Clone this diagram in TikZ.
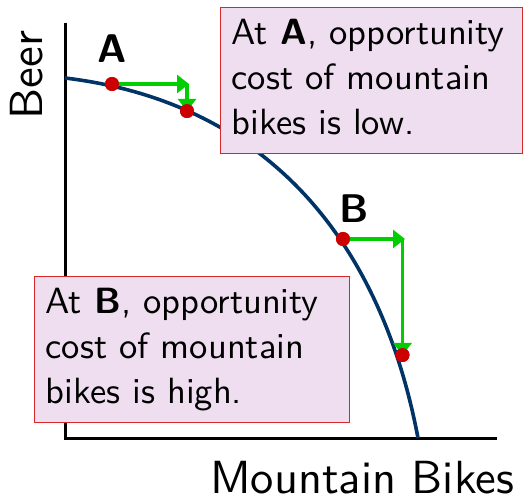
\documentclass[tikz,border=0pt]{standalone}
\usepackage{fontspec}
\setsansfont{lmsans10-regular}[Extension=.otf, BoldFont=lmsans10-bold]
\usetikzlibrary{arrows.meta}
\definecolor{ppfnavy}{RGB}{0,51,102}
\definecolor{dotred}{RGB}{204,0,0}
\definecolor{arrgreen}{RGB}{0,206,0}
\definecolor{boxfill}{RGB}{238,222,240}
\definecolor{boxline}{RGB}{214,40,40}
\begin{document}
\begin{tikzpicture}[x=1pt,y=-1pt,
 axis/.style={line width=3pt, line join=miter},
 ppf/.style={line width=3.6pt, draw=ppfnavy},
 pt/.style={circle, fill=dotred, minimum size=14pt, inner sep=0pt},
 move/.style={line width=3.3pt, draw=arrgreen, -{Triangle[length=12pt,width=18pt]}},
 note/.style={draw=boxline, line width=1.2pt, fill=boxfill, anchor=north west, align=left, inner xsep=11pt, inner ysep=0pt, font=\sffamily\fontsize{36.5}{45}\selectfont, minimum height=146pt},
 ptlabel/.style={font=\sffamily\bfseries\fontsize{40}{48}\selectfont, inner sep=0pt},
 axlabel/.style={font=\sffamily\fontsize{46.5}{56}\selectfont, inner sep=0pt}]
\useasboundingbox (0,0) rectangle (523,500);
% axes
\coordinate (ytop) at (65.5,23);
\coordinate (orig) at (65.5,438);
\coordinate (xend) at (497,438);
\draw[axis] (ytop) -- (orig) -- (xend);
% frontier
\coordinate (ppfs) at (65,78);
\coordinate (ppfe) at (418,438);
\draw[ppf] (ppfs) .. controls (265,102) and (380,238) .. (ppfe);
% points
\node[pt] (A) at (112,84) {};
\node[pt] (A2) at (187,111) {};
\node[pt] (B) at (343,239) {};
\node[pt] (B2) at (402.5,355) {};
\coordinate (Ac) at (A2 |- A);
\coordinate (Bc) at (B2 |- B);
\draw[move] (A.center) -- ([xshift=2pt]Ac);
\draw[move] (Ac) -- (A2.center);
\draw[move] (B.center) -- ([xshift=2.5pt]Bc);
\draw[move] (Bc) -- (B2.center);
\node[pt] at (A) {};
\node[pt] at (A2) {};
\node[pt] at (B) {};
\node[pt] at (B2) {};
% labels
\node[ptlabel] (labA) at (112,49) {A};
\node[ptlabel] (labB) at (354,208.5) {B};
% notes
\node[note, text width=280pt] (boxA) at (220,7) {\strut At \textbf{A}, opportunity\\cost of mountain\\bikes is low.\strut};
\node[note, text width=293pt] (boxB) at (34,276) {\strut At \textbf{B}, opportunity\\cost of mountain\\bikes is high.\strut};
% axis labels
\node[axlabel, rotate=90] (ylab) at (26.5,75) {Beer};
\node[axlabel] (xlab) at (362,478) {Mountain Bikes};
\end{tikzpicture}
\end{document}
